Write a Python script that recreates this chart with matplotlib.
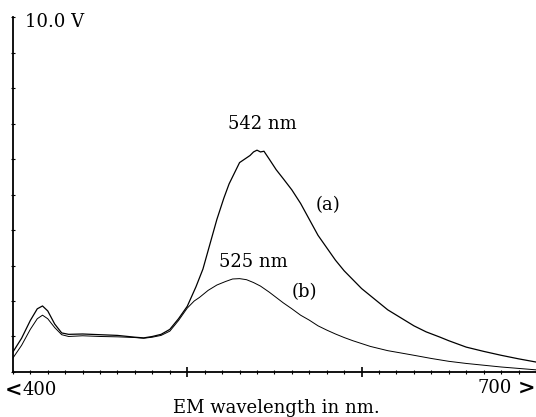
###############################################################################
## Emission spectra (a) and (b), EM wavelength 400-700 nm
###############################################################################

import matplotlib
matplotlib.use('Agg')
import matplotlib.pyplot as plt
import numpy as np

###############################################################################
## Data
###############################################################################

wl_a = [400, 405, 410, 414, 417, 420, 424, 428, 432, 440, 450, 460, 470, 475,
        480, 485, 490, 495, 500, 505, 509, 513, 517, 521, 524, 527, 530, 533,
        536, 538, 540, 542, 544, 547, 551, 555, 560, 565, 570, 575, 580, 585,
        590, 595, 600, 605, 610, 615, 620, 625, 630, 637, 645, 650, 660, 670,
        680, 690, 700]
em_a = [0.56, 0.95, 1.45, 1.78, 1.86, 1.72, 1.35, 1.10, 1.06, 1.07, 1.05, 1.03,
        0.98, 0.96, 1.00, 1.06, 1.20, 1.50, 1.85, 2.40, 2.90, 3.60, 4.30, 4.90,
        5.30, 5.60, 5.90, 6.00, 6.10, 6.20, 6.25, 6.20, 6.22, 6.00, 5.70, 5.45,
        5.13, 4.75, 4.30, 3.85, 3.50, 3.15, 2.85, 2.60, 2.35, 2.15, 1.95, 1.75,
        1.60, 1.45, 1.30, 1.13, 0.98, 0.88, 0.70, 0.58, 0.47, 0.37, 0.28]

wl_b = [400, 405, 410, 414, 417, 420, 424, 428, 432, 440, 450, 460, 470, 475,
        480, 485, 490, 495, 500, 504, 507, 512, 517, 522, 526, 530, 534, 538,
        542, 547, 551, 555, 560, 565, 570, 575, 580, 585, 590, 595, 600, 605,
        610, 615, 622, 630, 640, 650, 660, 670, 680, 690, 700]
em_b = [0.39, 0.75, 1.20, 1.50, 1.60, 1.50, 1.25, 1.05, 1.00, 1.02, 1.00, 0.99,
        0.97, 0.95, 0.98, 1.03, 1.15, 1.45, 1.80, 2.00, 2.10, 2.30, 2.45, 2.55,
        2.62, 2.63, 2.60, 2.52, 2.42, 2.25, 2.10, 1.95, 1.78, 1.60, 1.46, 1.30,
        1.18, 1.07, 0.97, 0.88, 0.80, 0.72, 0.66, 0.60, 0.54, 0.47, 0.38, 0.30,
        0.24, 0.19, 0.14, 0.10, 0.06]

###############################################################################
## Plot
###############################################################################

plt.rcParams['font.family'] = ['DejaVu Serif']

fig = plt.figure(figsize=(5.36, 4.17), dpi=100)
ax = fig.add_axes([0.024, 0.108, 0.976, 0.851])

ax.plot(wl_a, em_a, 'k-', linewidth=0.9)
ax.plot(wl_b, em_b, 'k-', linewidth=0.7)

ax.set_xlim(400, 700)
ax.set_ylim(0, 10)
ax.spines['top'].set_visible(False)
ax.spines['right'].set_visible(False)
ax.spines['left'].set_linewidth(1.3)
ax.spines['bottom'].set_linewidth(1.3)

ax.set_xticks([500, 600])
ax.set_xticks(np.arange(400, 701, 10), minor=True)
ax.set_yticks(np.arange(0, 11, 1))
ax.tick_params(axis='x', which='major', direction='inout', length=7, width=1.2,
               labelbottom=False)
ax.tick_params(axis='x', which='minor', direction='inout', length=3, width=0.8)
ax.tick_params(axis='y', direction='inout', length=3, width=0.8, labelleft=False)

fs = 13
ax.text(407, 9.86, '10.0 V', fontsize=fs, ha='left', va='center')
ax.text(543, 7.0, '542 nm', fontsize=fs, ha='center', va='center')
ax.text(581, 4.7, '(a)', fontsize=fs, ha='center', va='center')
ax.text(538, 3.1, '525 nm', fontsize=fs, ha='center', va='center')
ax.text(567, 2.25, '(b)', fontsize=fs, ha='center', va='center')

fig.text(0.008, 0.065, '<', fontsize=fs + 2, fontweight='bold', ha='left',
         va='center')
fig.text(0.042, 0.065, '400', fontsize=fs, ha='left', va='center')
fig.text(0.955, 0.07, '700', fontsize=fs, ha='right', va='center')
fig.text(0.998, 0.07, '>', fontsize=fs + 2, fontweight='bold', ha='right',
         va='center')
fig.text(0.515, 0.022, 'EM wavelength in nm.', fontsize=fs, ha='center',
         va='center')

fig.savefig('out.png', dpi=100)
